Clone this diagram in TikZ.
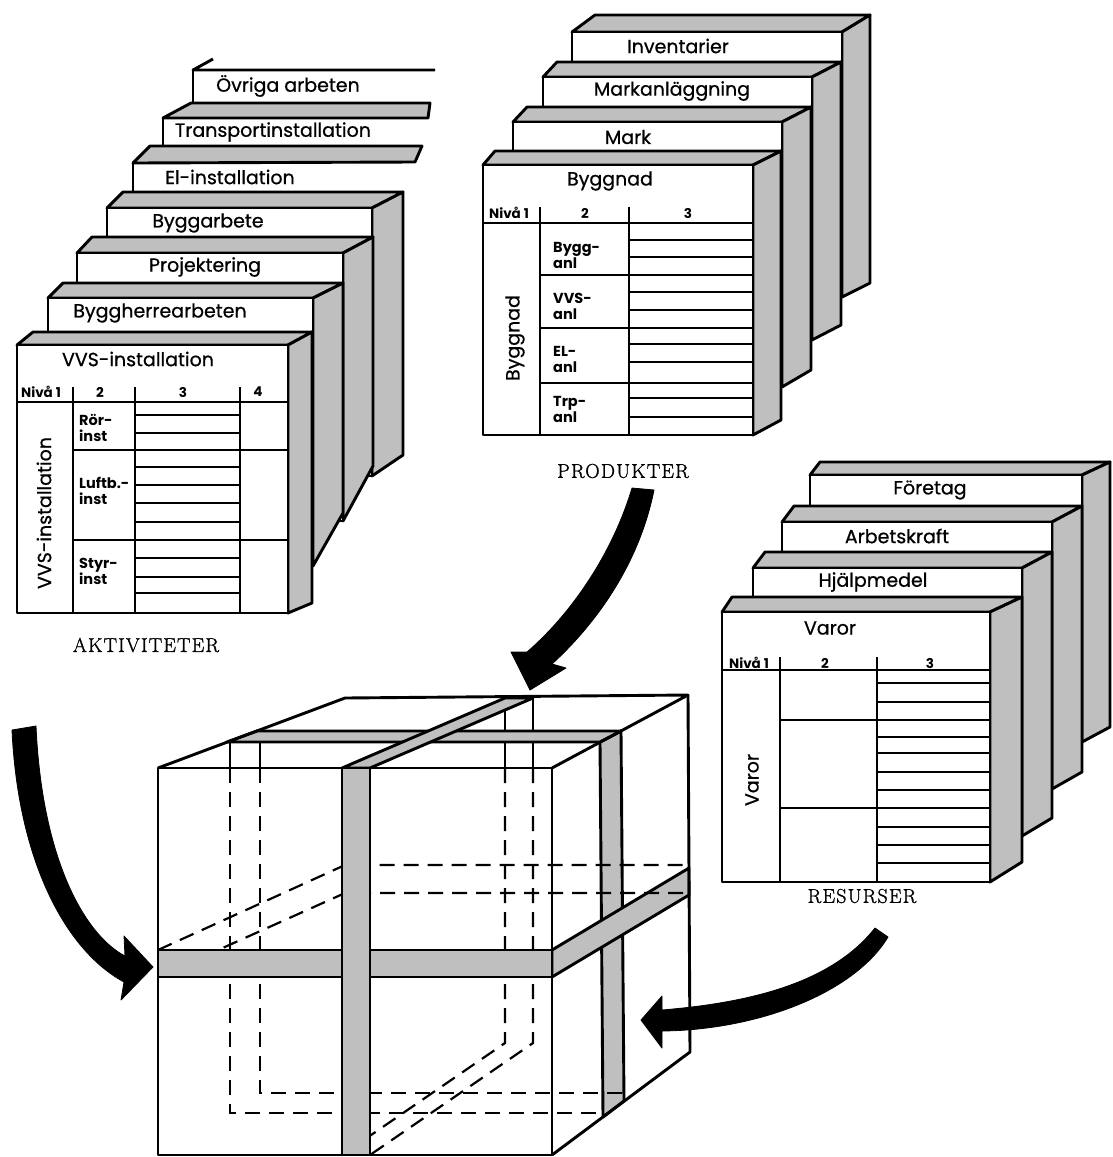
\documentclass[tikz,border=0pt]{standalone}
\usepackage{fontspec}
\newfontfamily\pop{Poppins}[FakeBold=0.7]
\newfontfamily\popb{Poppins}[BoldFont={* Bold}]
\newfontfamily\capfont{Latin Modern Roman}[LetterSpace=6,FakeBold=1.2]
\tikzset{
  ol/.style={line width=2.9pt, line join=round},
  tl/.style={line width=1.5pt},
  shd/.style={fill=black!25},
  hid/.style={line width=2.2pt, dash pattern=on 15pt off 9pt},
  ttl/.style={font=\pop\fontsize{19}{19}\selectfont, inner sep=0pt},
  sml/.style={font=\popb\bfseries\fontsize{13.5}{14}\selectfont, inner sep=0pt},
  lbl/.style={font=\popb\bfseries\fontsize{14.5}{16}\selectfont, inner sep=0pt, anchor=west, align=left},
  capt/.style={font=\capfont\fontsize{20}{20}\selectfont, inner sep=0pt},
  arr/.style={fill=black, draw=black, line width=0.8pt, line join=round},
}
% x y W H dxl dx dy dyb name
\newcommand\crd[9]{%
  \filldraw[ol,shd] (#1,#2) -- ({#1+#5},{#2+#7}) -- ({#1+#3+#6},{#2+#7}) -- ({#1+#3},#2) -- cycle;
  \filldraw[ol,shd] ({#1+#3},#2) -- ({#1+#3+#6},{#2+#7}) -- ({#1+#3+#6},{#2+#4+#8}) -- ({#1+#3},{#2+#4}) -- cycle;
  \filldraw[ol,fill=white] (#1,#2) rectangle ({#1+#3},{#2+#4});
  \coordinate (#9) at (#1,#2);
}
\begin{document}
\begin{tikzpicture}[x=1pt,y=-1pt]
\useasboundingbox (0,0) rectangle (1113,1157);
\fill[white] (0,0) rectangle (1113,1157);

% ================= AKTIVITETER stack =================
\draw[ol] (213,59) -- (193,70) -- (435,70);
\draw[ol] (193,70) -- (193,103);
\node[ttl] (t-ovr) at (288,86) {Övriga arbeten};
\filldraw[ol,shd] (163,118) -- (191,103) -- (430,103) -- (428,118) -- cycle;
\draw[ol] (163,118) -- (163,146);
\node[ttl] (t-trp) at (273,132) {Transportinstallation};
\filldraw[ol,shd] (133,163) -- (150,146) -- (422,146) -- (415,162) -- cycle;
\draw[ol] (133,163) -- (133,193);
\node[ttl] (t-el) at (230,177) {El-installation};
\crd{107}{208}{265}{268}{16}{31}{-16}{-21}{c-bya}
\node[ttl] (t-bya) at (208,223) {Byggarbete};
\crd{77}{253}{266}{268}{15}{30}{-16}{-55}{c-proj}
\node[ttl] (t-proj) at (205,267) {Projektering};
\crd{48}{298}{265}{268}{15}{30}{-15}{-53}{c-bh}
\node[ttl] (t-bh) at (160,313) {Byggherrearbeten};
\crd{17}{345}{271}{268}{16}{24}{-13}{-10}{c-vvs}
\node[ttl] (t-vvs) at (138,359) {VVS-installation};
\node[sml] (a-n1) at (41,392) {Nivå 1};
\node[sml] (a-n2) at (100,392) {2};
\node[sml] (a-n3) at (183,392) {3};
\node[sml] (a-n4) at (258,392) {4};
\foreach \x in {73,135,240} \draw[tl] (\x,387) -- (\x,613);
\draw[tl] (17,402) -- (288,402);
\foreach \y in {450,540} \draw[tl] (73,\y) -- (288,\y);
\foreach \y in {415,433,467,485,503,522,558,577,593} \draw[tl] (135,\y) -- (240,\y);
\node[lbl] (a-ror) at (79,428) {Rör-\\inst};
\node[lbl] (a-luf) at (79,491) {Luftb.-\\inst};
\node[lbl] (a-sty) at (79,571) {Styr-\\inst};
\node[ttl,rotate=90] (a-col1) at (44,513) {VVS-installation};
\node[capt] (cap-akt) at (146,645) {AKTIVITETER};

% ================= PRODUKTER stack =================
\crd{572}{32}{270}{265}{23}{28}{-17}{-14}{c-inv}
\node[ttl] (t-inv) at (678,46) {Inventarier};
\crd{543}{77}{269}{263}{14}{29}{-15}{-15}{c-mka}
\node[ttl] (t-mka) at (672,91) {Markanläggning};
\crd{513}{122}{269}{265}{14}{29}{-15}{-17}{c-mark}
\node[ttl] (t-mark) at (628,137) {Mark};
\crd{483}{165}{270}{270}{12}{28}{-14}{-15}{c-byg}
\node[ttl] (t-byg) at (610,181) {Byggnad};
\node[sml] (p-n1) at (509,213) {Nivå 1};
\node[sml] (p-n2) at (585,213) {2};
\node[sml] (p-n3) at (688,213) {3};
\foreach \x in {540,629} \draw[tl] (\x,207) -- (\x,435);
\draw[tl] (483,223) -- (753,223);
\foreach \y in {275,328,383} \draw[tl] (540,\y) -- (753,\y);
\foreach \y in {240,257,292,310,344,362,398,417} \draw[tl] (629,\y) -- (753,\y);
\node[lbl] (p-bygg) at (553,255) {Bygg-\\anl};
\node[lbl] (p-vvs) at (553,306) {VVS-\\anl};
\node[lbl] (p-el) at (553,359) {EL-\\anl};
\node[lbl] (p-trp) at (553,409) {Trp-\\anl};
\node[ttl,rotate=90] (p-col1) at (515,338) {Byggnad};
\node[capt] (cap-prod) at (623,471) {PRODUKTER};

% ================= RESURSER stack =================
\crd{810}{475}{272}{267}{10}{28}{-13}{-15}{c-for}
\node[ttl] (t-for) at (930,490) {Företag};
\crd{782}{522}{270}{267}{12}{30}{-16}{-17}{c-arb}
\node[ttl] (t-arb) at (897,536) {Arbetskraft};
\crd{753}{568}{269}{268}{12}{30}{-16}{-18}{c-hjm}
\node[ttl] (t-hjm) at (873,582) {Hjälpmedel};
\crd{722}{612}{268}{270}{10}{32}{-15}{-20}{c-var}
\node[ttl] (t-var) at (830,628) {Varor};
\node[sml] (r-n1) at (749,663) {Nivå 1};
\node[sml] (r-n2) at (825,663) {2};
\node[sml] (r-n3) at (930,663) {3};
\foreach \x in {780,877} \draw[tl] (\x,657) -- (\x,882);
\draw[tl] (722,670) -- (990,670);
\foreach \y in {720,808} \draw[tl] (780,\y) -- (990,\y);
\foreach \y in {683,702,737,753,772,790,827,845,863} \draw[tl] (877,\y) -- (990,\y);
\node[ttl,rotate=90] (r-col1) at (752,780) {Varor};
\node[capt] (cap-res) at (862,896) {RESURSER};

% ================= CUBE =================
\coordinate (ftl) at (158,768);
\coordinate (ftr) at (552,768);
\coordinate (fbr) at (552,1155);
\coordinate (fbl) at (158,1155);
\coordinate (btl) at (345,698);
\coordinate (btr) at (688,695);
\coordinate (bbr) at (690,1052);
\fill[white] (ftl) -- (btl) -- (btr) -- (bbr) -- (fbr) -- (fbl) -- cycle;
\filldraw[ol,shd] (600,742) -- (621,731) -- (624,1101) -- (603,1117) -- cycle;
\filldraw[ol,shd] (552,950) -- (689,868) -- (689,895) -- (552,977) -- cycle;
\draw[hid] (158,950) -- (345,865) -- (688,865);
\draw[hid] (158,977) -- (345,893) -- (688,893);
\draw[hid] (230,768) -- (230,1113) -- (603,1113);
\draw[hid] (260,768) -- (260,1093) -- (630,1093);
\draw[hid] (505,768) -- (505,1043) -- (342,1155);
\draw[hid] (533,768) -- (533,1043) -- (370,1155);
\draw[ol] (230,741) -- (230,768);
\draw[ol] (260,742) -- (260,768);
\draw[ol] (505,710) -- (505,768);
\draw[ol] (533,698) -- (533,768);
\filldraw[ol,shd] (227,742) -- (257,731) -- (621,731) -- (600,742) -- cycle;
\filldraw[ol,shd] (342,768) -- (505,698) -- (533,698) -- (370,768) -- cycle;
\filldraw[ol,shd] (158,950) rectangle (552,977);
\filldraw[ol,shd] (342,768) rectangle (370,1155);
\draw[ol] (342,950) -- (342,977) (370,950) -- (370,977);
\draw[ol] (ftl) rectangle (fbr);
\draw[ol] (ftl) -- (btl) -- (btr) -- (ftr);
\draw[ol] (btr) -- (bbr) -- (fbr);

% ================= ARROWS =================
\filldraw[arr] (12,730) .. controls (18,860) and (65,950) .. (124,982)
   -- (121,1000) -- (153,967) -- (124,936) -- (125,956)
   .. controls (85,935) and (42,860) .. (36,726) -- cycle;
\filldraw[arr] (632,488) .. controls (612,555) and (570,615) .. (527,652)
   -- (511,652) -- (530,690) -- (566,668) -- (552,664)
   .. controls (600,620) and (640,560) .. (654,490) -- cycle;
\filldraw[arr] (875,928) .. controls (830,985) and (745,1003) .. (662,1010)
   -- (662,996) -- (641,1020) -- (662,1048) -- (662,1031)
   .. controls (760,1030) and (855,992) .. (888,937) -- cycle;
\end{tikzpicture}
\end{document}
